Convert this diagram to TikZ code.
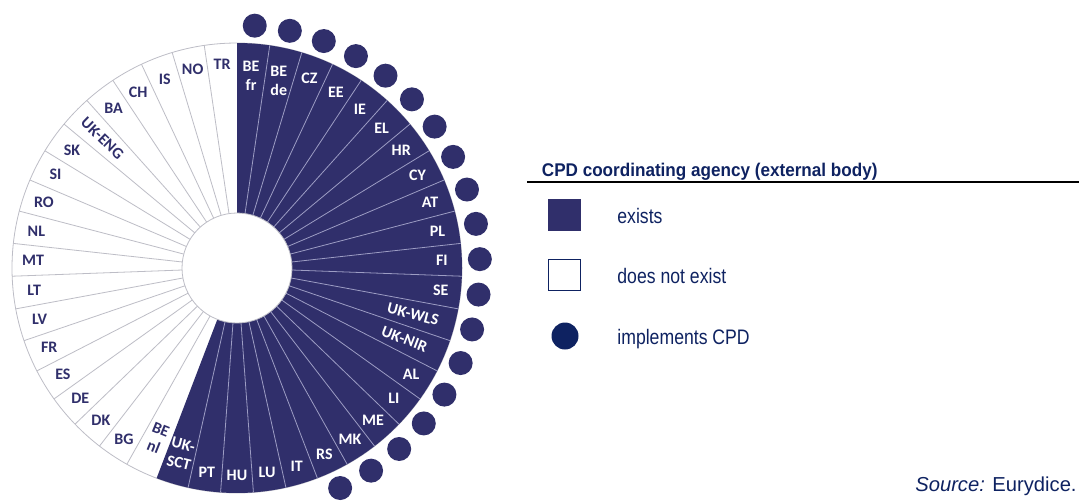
\documentclass[tikz,border=0pt]{standalone}
\usepackage{fontspec}
\setmainfont{Liberation Sans}
\newfontfamily\labfont{Carlito}
\newfontfamily\legfont[FakeStretch=0.84]{Liberation Sans}
\newfontfamily\titfont[FakeStretch=0.93]{Liberation Sans}

\definecolor{agency}{HTML}{302F6B}
\definecolor{legnavy}{HTML}{0E2261}
\definecolor{sepgray}{HTML}{BDBDC6}
\definecolor{seplight}{HTML}{9D9DC4}

\def\secang{8.37209}

\tikzset{
  seclab/.style={font=\labfont\bfseries\fontsize{8}{9.5}\selectfont, align=center, inner sep=0pt},
  cpddot/.style={circle, fill=agency, minimum size=12pt, inner sep=0pt},
  legtext/.style={anchor=base west, text=legnavy, font=\legfont\fontsize{10.5}{12}\selectfont, inner sep=0pt},
}

\begin{document}
\begin{tikzpicture}[x=0.5pt, y=0.5pt]
    \useasboundingbox (0,0) rectangle (1079,500);
    \coordinate (c) at (237,232);

    % wheel
    \draw[sepgray, line width=0.4pt, fill=white] (c) circle (225);
    \fill[agency] (c) -- ++(90:225) arc[start angle=90, end angle=90-24*\secang, radius=225] -- cycle;
    \foreach \k in {1,...,23}
        \draw[seplight, line width=0.4pt] ([shift={({90-\k*\secang}:55)}]c) -- ([shift={({90-\k*\secang}:225)}]c);
    \foreach \k in {25,...,42}
        \draw[sepgray, line width=0.4pt] ([shift={({90-\k*\secang}:55)}]c) -- ([shift={({90-\k*\secang}:225)}]c);
    \draw[sepgray, line width=0.4pt, fill=white] (c) circle (55);

    % country labels
    \foreach \k/\lab/\r/\rot in {0/{BE\\fr}/193/0, 1/{BE\\de}/192/0, 2/CZ/203/0, 3/EE/202/0,
        4/IE/201/0, 5/EL/201/0, 6/HR/202/0, 7/CY/203/0, 8/AT/204/0, 9/PL/204/0, 10/FI/205/0,
        11/SE/205/0, 12/UK-WLS/182/-14.6, 13/UK-NIR/182/-21, 14/AL/204/0, 15/LI/204/0,
        16/ME/204/0, 17/MK/205/0, 18/RS/206/0, 19/IT/207/0, 20/LU/207/0, 21/HU/207/0,
        22/PT/207/0, 23/{UK-\\SCT}/194/-14}
        \node[seclab, text=white, rotate=\rot] (lab\k) at ([shift={({90-(\k+0.5)*\secang}:\r)}]c) {\lab};
    \foreach \k/\lab/\r/\rot in {24/{BE\\nl}/188/-22, 25/BG/205/0, 26/DK/204/0, 27/DE/204/0,
        28/ES/204/0, 29/FR/204/0, 30/LV/204/0, 31/LT/204/0, 32/MT/204/0, 33/NL/204/0,
        34/RO/204/0, 35/SI/204/0, 36/SK/203/0, 37/UK-ENG/187/-44, 38/BA/202/0, 39/CH/202/0,
        40/IS/202/0, 41/NO/204/0, 42/TR/204/0}
        \node[seclab, text=agency, rotate=\rot] (lab\k) at ([shift={({90-(\k+0.5)*\secang}:\r)}]c) {\lab};

    % implements CPD
    \foreach \k in {0,...,18}
        \node[cpddot] (dot\k) at ([shift={({90-(\k+0.5)*\secang}:243)}]c) {};

    % legend
    \node[anchor=base west, inner sep=0pt, text=legnavy, font=\titfont\bfseries\fontsize{9.2}{11}\selectfont] (legtitle) at (541.5,324) {CPD coordinating agency (external body)};
    \coordinate (rulel) at (527,318);
    \coordinate (ruler) at (1079,318);
    \draw[line width=1pt] (rulel) -- (ruler);
    \node[fill=agency, minimum width=16.5pt, minimum height=16pt, inner sep=0pt] (legexists) at (564.5,285) {};
    \node[draw=legnavy, line width=0.6pt, fill=white, minimum width=16pt, minimum height=15.5pt, inner sep=0pt] (legnone) at (564.5,225) {};
    \node[circle, fill=legnavy, minimum size=13.5pt, inner sep=0pt] (legdot) at (565,164) {};
    \node[legtext] (txtexists) at (617,277) {exists};
    \node[legtext] (txtnone) at (617,217) {does not exist};
    \node[legtext] (txtdot) at (617,156) {implements CPD};

    \node[anchor=base east, inner sep=0pt, text=legnavy, font=\fontsize{10.1}{12}\selectfont] (source) at (1077,8.5) {\textit{Source:} Eurydice.};
\end{tikzpicture}
\end{document}
